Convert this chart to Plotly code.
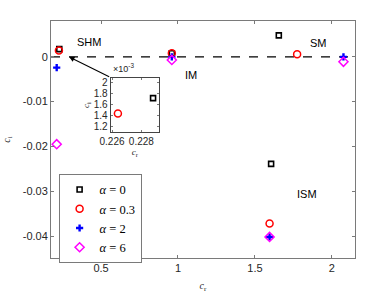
import plotly.graph_objects as go

# Main data (c_r, c_i) per alpha: SHM, IM, SM, ISM
cr_a0 = [0.2288, 0.960, 1.655, 1.605]
ci_a0 = [0.00172, 0.0008, 0.0048, -0.0239]
cr_a03 = [0.2264, 0.960, 1.774, 1.595]
ci_a03 = [0.00144, 0.0008, 0.0006, -0.0372]
cr_a2 = [0.212, 0.960, 2.075, 1.595]
ci_a2 = [-0.0024, 0.0000, 0.0000, -0.0402]
cr_a6 = [0.212, 0.960, 2.075, 1.595]
ci_a6 = [-0.0195, -0.0007, -0.0011, -0.0402]

# Inset (SHM zoom)
inset_cr_a0 = [0.2288]
inset_ci_a0 = [0.00172]
inset_cr_a03 = [0.2264]
inset_ci_a03 = [0.00144]

x_ticks = [0.5, 1, 1.5, 2]
x_ticklabels = ["0.5", "1", "1.5", "2"]
y_ticks = [0, -0.01, -0.02, -0.03, -0.04]
y_ticklabels = ["0", "-0.01", "-0.02", "-0.03", "-0.04"]
inset_x_ticks = [0.226, 0.228]
inset_x_ticklabels = ["0.226", "0.228"]
inset_y_ticks = [1.2, 1.4, 1.6, 1.8, 2.0]
inset_y_ticklabels = ["1.2", "1.4", "1.6", "1.8", "2"]

regions = ["SHM", "IM", "SM", "ISM"]
region_x = [0.422, 1.084, 1.912, 1.837]
region_y = [0.0034, -0.0040, 0.0031, -0.0306]

axcol = "#7a7a7a"
tickfont = dict(family="Liberation Sans, Arial", size=11, color="#262626")
itickfont = dict(family="Liberation Sans, Arial", size=10, color="#262626")

fig = go.Figure()
fig.add_trace(go.Scatter(x=[0.175, 2.15], y=[0, 0], mode="lines",
                         line=dict(color="black", dash="dash", width=1.3),
                         showlegend=False, hoverinfo="skip"))
fig.add_trace(go.Scatter(x=cr_a0, y=ci_a0, mode="markers", name="<i>α</i> = 0",
                         marker=dict(symbol="square-open", size=5, color="black",
                                     line=dict(width=1.6))))
fig.add_trace(go.Scatter(x=cr_a03, y=ci_a03, mode="markers", name="<i>α</i> = 0.3",
                         marker=dict(symbol="circle-open", size=7, color="red",
                                     line=dict(width=1.5))))
fig.add_trace(go.Scatter(x=cr_a2, y=ci_a2, mode="markers", name="<i>α</i> = 2",
                         marker=dict(symbol="cross", size=6, color="blue",
                                     line=dict(width=0))))
fig.add_trace(go.Scatter(x=cr_a6, y=ci_a6, mode="markers", name="<i>α</i> = 6",
                         marker=dict(symbol="diamond-open", size=7, color="magenta",
                                     line=dict(width=1.5))))

# Inset traces
fig.add_trace(go.Scatter(x=inset_cr_a0, y=[v * 1e3 for v in inset_ci_a0], mode="markers",
                         xaxis="x2", yaxis="y2", showlegend=False,
                         marker=dict(symbol="square-open", size=5, color="black",
                                     line=dict(width=1.6))))
fig.add_trace(go.Scatter(x=inset_cr_a03, y=[v * 1e3 for v in inset_ci_a03], mode="markers",
                         xaxis="x2", yaxis="y2", showlegend=False,
                         marker=dict(symbol="circle-open", size=7, color="red",
                                     line=dict(width=1.5))))

annotations = []
for t, xx, yy in zip(regions, region_x, region_y):
    annotations.append(dict(x=xx, y=yy, xref="x", yref="y", text=t, showarrow=False,
                            font=dict(family="Liberation Sans, Arial", size=11, color="black")))
# arrow from inset to SHM
annotations.append(dict(x=0.292, y=0.0, ax=0.5627, ay=-0.00463, xref="x", yref="y",
                        axref="x", ayref="y", text="", showarrow=True, arrowhead=2,
                        arrowsize=1, arrowwidth=1.1, arrowcolor="black"))
annotations.append(dict(x=0.196, y=0.768, xref="paper", yref="paper", xanchor="left",
                        yanchor="bottom", text="×10<sup>-3</sup>", showarrow=False,
                        font=dict(family="Liberation Sans, Arial", size=9, color="#262626")))

fig.update_layout(
    width=392, height=294,
    margin=dict(l=51, r=37, t=21, b=36, autoexpand=False),
    paper_bgcolor="white", plot_bgcolor="white",
    xaxis=dict(range=[0.175, 2.15], tickvals=x_ticks, ticktext=x_ticklabels,
               ticks="inside", ticklen=3, tickcolor=axcol, showgrid=False, zeroline=False,
               showline=True, linecolor=axcol, linewidth=1, mirror="ticks",
               tickfont=tickfont, tickangle=0, automargin=False,
               title=dict(text="<i>c</i><sub>r</sub>", standoff=8,
                          font=dict(family="Liberation Serif", size=10, color="#262626"))),
    yaxis=dict(range=[-0.0449, 0.008], tickvals=y_ticks, ticktext=y_ticklabels,
               ticks="inside", ticklen=3, tickcolor=axcol, showgrid=False, zeroline=False,
               showline=True, linecolor=axcol, linewidth=1, mirror="ticks",
               tickfont=tickfont, automargin=False,
               title=dict(text="<i>c</i><sub>i</sub>", standoff=10,
                          font=dict(family="Liberation Serif", size=10, color="#262626"))),
    xaxis2=dict(domain=[0.196, 0.355], anchor="y2", range=[0.2259, 0.2292],
                tickvals=inset_x_ticks, ticktext=inset_x_ticklabels,
                ticks="inside", ticklen=2, tickcolor=axcol, showgrid=False, zeroline=False,
                showline=True, linecolor="#444", linewidth=1, mirror="ticks",
                tickfont=itickfont, tickangle=0, automargin=False,
                title=dict(text="<i>c</i><sub>r</sub>", standoff=2,
                           font=dict(family="Liberation Serif", size=9, color="#262626"))),
    yaxis2=dict(domain=[0.530, 0.761], anchor="x2", range=[1.1, 2.09],
                tickvals=inset_y_ticks, ticktext=inset_y_ticklabels,
                ticks="inside", ticklen=2, tickcolor=axcol, showgrid=False, zeroline=False,
                showline=True, linecolor="#444", linewidth=1, mirror="ticks",
                tickfont=itickfont, automargin=False,
                title=dict(text="<i>c</i><sub>i</sub>", standoff=2,
                           font=dict(family="Liberation Serif", size=9, color="#262626"))),
    legend=dict(x=0.025, y=0.355, xanchor="left", yanchor="top",
                bgcolor="white", bordercolor=axcol, borderwidth=1,
                font=dict(family="Liberation Serif", size=12.5, color="black"),
                tracegroupgap=0, itemwidth=30),
    annotations=annotations,
    showlegend=True,
)

fig.write_html("out.html", config={"displayModeBar": False},
               post_script="document.body.style.margin='0';")
